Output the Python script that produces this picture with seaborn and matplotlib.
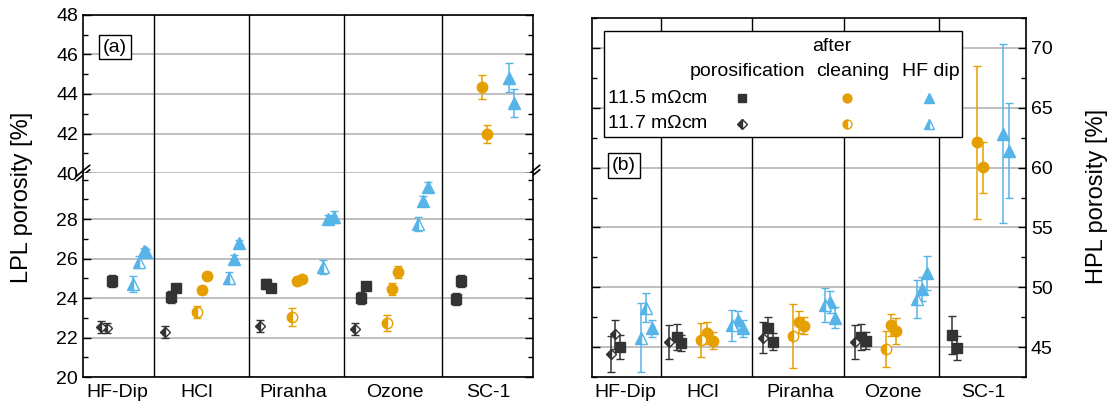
import matplotlib
matplotlib.use("Agg")
import matplotlib.pyplot as plt
from matplotlib.patches import Rectangle
from matplotlib.ticker import MultipleLocator
import seaborn as sns

# ── Data ───────────────────────────────────────────────────────────────────
groups = ["HF-Dip", "HCl", "Piranha", "Ozone", "SC-1"]

# LPL (left panel): sample positions, porosity [%], error
lpl_por115_x = [2.93, 8.77, 9.27, 18.27, 18.77, 27.77, 28.27, 37.27, 37.8]
lpl_por115_y = [24.88, 24.03, 24.49, 24.69, 24.49, 24.02, 24.61, 23.95, 24.86]
lpl_por115_e = [0.3, 0.3, 0.15, 0.25, 0.15, 0.3, 0.15, 0.3, 0.3]
lpl_por117_x = [1.77, 2.37, 8.23, 17.73, 27.2]
lpl_por117_y = [22.55, 22.5, 22.29, 22.58, 22.41]
lpl_por117_e = [0.3, 0.25, 0.3, 0.3, 0.3]
lpl_cln115_x = [11.93, 12.43, 21.43, 21.93, 30.93, 31.47, 39.93, 40.43]
lpl_cln115_y = [24.41, 25.13, 24.88, 24.94, 24.44, 25.33, 44.37, 41.97]
lpl_cln115_e = [0.2, 0.15, 0.2, 0.2, 0.3, 0.3, 0.6, 0.45]
lpl_cln117_x = [11.37, 20.87, 30.43]
lpl_cln117_y = [23.31, 23.05, 22.72]
lpl_cln117_e = [0.3, 0.45, 0.4]
lpl_hf115_x = [6.1, 6.3, 15.07, 15.63, 24.53, 25.1, 34.0, 34.5, 42.6, 43.1]
lpl_hf115_y = [26.38, 26.31, 25.97, 26.8, 28.0, 28.12, 28.91, 29.62, 44.83, 43.56]
lpl_hf115_e = [0.15, 0.15, 0.2, 0.15, 0.2, 0.3, 0.25, 0.25, 0.75, 0.7]
lpl_hf117_x = [5.03, 5.6, 14.63, 24.03, 33.53]
lpl_hf117_y = [24.69, 25.84, 25.03, 25.59, 27.75]
lpl_hf117_e = [0.4, 0.3, 0.3, 0.35, 0.35]
lpl_sep = [7.1, 16.6, 26.1, 35.9]
lpl_label_x = [3.4, 11.4, 21.0, 31.2, 40.5]

# HPL (right panel)
hpl_por115_x = [2.8, 8.47, 8.87, 17.57, 18.13, 26.9, 27.37, 35.97, 36.47]
hpl_por115_y = [45.03, 45.86, 45.36, 46.61, 45.44, 45.86, 45.53, 46.0, 44.89]
hpl_por115_e = [1.0, 1.1, 0.65, 0.9, 0.7, 1.1, 0.7, 1.6, 1.0]
hpl_por117_x = [1.87, 2.3, 7.73, 17.07, 26.3]
hpl_por117_y = [44.42, 46.08, 45.44, 45.78, 45.44]
hpl_por117_e = [1.5, 1.2, 1.4, 1.3, 1.4]
hpl_cln115_x = [11.47, 12.07, 20.7, 21.2, 29.9, 30.4, 38.53, 39.07]
hpl_cln115_y = [46.19, 45.53, 47.11, 46.78, 46.83, 46.33, 62.1, 60.02]
hpl_cln115_e = [0.9, 0.7, 0.9, 0.7, 0.9, 1.1, 6.4, 2.15]
hpl_cln117_x = [10.9, 20.13, 29.37]
hpl_cln117_y = [45.58, 45.92, 44.83]
hpl_cln117_e = [1.4, 2.7, 1.5]
hpl_hf115_x = [5.97, 14.63, 15.07, 23.8, 24.3, 32.97, 33.53, 41.13, 41.7]
hpl_hf115_y = [46.56, 47.25, 46.56, 48.78, 47.47, 49.89, 51.19, 62.83, 61.42]
hpl_hf115_e = [0.7, 0.8, 0.7, 0.9, 0.9, 1.0, 1.4, 7.5, 4.0]
hpl_hf117_x = [4.87, 5.37, 14.03, 23.3, 32.47]
hpl_hf117_y = [45.79, 48.3, 46.83, 48.5, 49.0]
hpl_hf117_e = [2.9, 1.2, 1.3, 1.4, 1.6]
hpl_sep = [6.9, 16.0, 25.2, 34.7]
hpl_label_x = [3.3, 11.1, 20.8, 30.1, 39.1]

# ── Style ──────────────────────────────────────────────────────────────────
sns.set_theme(style="ticks")
plt.rcParams["font.family"] = ["Liberation Sans", "DejaVu Sans"]
plt.rcParams["mathtext.fontset"] = "custom"
plt.rcParams["mathtext.rm"] = "Liberation Sans"
for k in ("text.color", "xtick.color", "ytick.color", "axes.labelcolor"):
    plt.rcParams[k] = "black"

DARK, ORANGE, BLUE = "#333333", "#E69F00", "#56B4E9"
GRID = "#b4b4b4"
FS = 14
LABEL_FS = 17

STYLE = {
    "por115": dict(color=DARK, marker="s", ms=6.5, fillstyle="full"),
    "por117": dict(color=DARK, marker="D", ms=5.5, fillstyle="left"),
    "cln115": dict(color=ORANGE, marker="o", ms=7.5, fillstyle="full"),
    "cln117": dict(color=ORANGE, marker="o", ms=7.5, fillstyle="left"),
    "hf115": dict(color=BLUE, marker="^", ms=8.5, fillstyle="full"),
    "hf117": dict(color=BLUE, marker="^", ms=8.5, fillstyle="left"),
}


def draw_series(ax, x, y, e, key):
    st = STYLE[key]
    ax.errorbar(x, y, yerr=e, fmt=st["marker"], color=st["color"], ms=st["ms"],
                mec=st["color"], mew=1.0, fillstyle=st["fillstyle"],
                markerfacecoloralt="white", elinewidth=1.1, capsize=3,
                capthick=1.1, zorder=3)


def style_axis(ax, major, minor):
    ax.tick_params(axis="y", which="both", direction="in", left=True, right=True,
                   labelsize=FS)
    ax.tick_params(axis="y", which="major", length=6, width=1)
    ax.tick_params(axis="y", which="minor", length=3.5, width=1)
    ax.tick_params(axis="x", length=0, labelsize=FS, pad=5)
    ax.yaxis.set_major_locator(MultipleLocator(major))
    ax.yaxis.set_minor_locator(MultipleLocator(minor))
    ax.yaxis.grid(True, color=GRID, lw=1.2)
    for s in ax.spines.values():
        s.set_linewidth(1.2)
        s.set_color("black")


fig = plt.figure(figsize=(11.17, 4.03), dpi=100)
ax_top = fig.add_axes([0.0743, 0.5707, 0.4029, 0.3921])
ax_bot = fig.add_axes([0.0743, 0.0645, 0.4029, 0.5062])
ax_r = fig.add_axes([0.530, 0.0645, 0.3885, 0.8908])

left_series = [
    (lpl_por115_x, lpl_por115_y, lpl_por115_e, "por115"),
    (lpl_por117_x, lpl_por117_y, lpl_por117_e, "por117"),
    (lpl_cln115_x, lpl_cln115_y, lpl_cln115_e, "cln115"),
    (lpl_cln117_x, lpl_cln117_y, lpl_cln117_e, "cln117"),
    (lpl_hf115_x, lpl_hf115_y, lpl_hf115_e, "hf115"),
    (lpl_hf117_x, lpl_hf117_y, lpl_hf117_e, "hf117"),
]
right_series = [
    (hpl_por115_x, hpl_por115_y, hpl_por115_e, "por115"),
    (hpl_por117_x, hpl_por117_y, hpl_por117_e, "por117"),
    (hpl_cln115_x, hpl_cln115_y, hpl_cln115_e, "cln115"),
    (hpl_cln117_x, hpl_cln117_y, hpl_cln117_e, "cln117"),
    (hpl_hf115_x, hpl_hf115_y, hpl_hf115_e, "hf115"),
    (hpl_hf117_x, hpl_hf117_y, hpl_hf117_e, "hf117"),
]

# ── Left panel (broken axis) ───────────────────────────────────────────────
for ax in (ax_top, ax_bot):
    for x, y, e, key in left_series:
        draw_series(ax, x, y, e, key)
    for s in lpl_sep:
        ax.axvline(s, color="black", lw=1.0, zorder=1)
    ax.set_xlim(0, 45)
    style_axis(ax, 2, 1)

ax_top.set_ylim(40, 48)
ax_bot.set_ylim(20, 30.33)
ax_top.spines["bottom"].set_visible(False)
ax_bot.spines["top"].set_visible(False)
ax_top.set_xticks([])
ax_bot.set_xticks(lpl_label_x)
ax_bot.set_xticklabels(groups)
ax_bot.set_yticks([20, 22, 24, 26, 28])

# break marks on both spines
for xa in (0.0, 1.0):
    for dy in (-0.014, 0.014):
        ax_top.plot([xa - 0.015, xa + 0.015], [dy - 0.035, dy + 0.035],
                    transform=ax_top.transAxes, color="black", lw=1.2,
                    clip_on=False, zorder=5)

ax_top.text(0.071, 0.797, "(a)", transform=ax_top.transAxes, fontsize=FS,
            ha="center", va="center",
            bbox=dict(boxstyle="square,pad=0.2", fc="white", ec="black", lw=1.0))

# ── Right panel ────────────────────────────────────────────────────────────
for x, y, e, key in right_series:
    draw_series(ax_r, x, y, e, key)
for s in hpl_sep:
    ax_r.axvline(s, color="black", lw=1.0, zorder=1)
ax_r.set_xlim(0, 43.4)
ax_r.set_ylim(42.5, 72.5)
style_axis(ax_r, 5, 2.5)
ax_r.tick_params(axis="y", labelleft=False, labelright=True)
ax_r.set_xticks(hpl_label_x)
ax_r.set_xticklabels(groups)

ax_r.text(0.074, 0.59, "(b)", transform=ax_r.transAxes, fontsize=FS,
          ha="center", va="center",
          bbox=dict(boxstyle="square,pad=0.2", fc="white", ec="black", lw=1.0))

# custom legend table
ax_r.add_patch(Rectangle((0.0276, 0.6685), 0.8249, 0.2953, transform=ax_r.transAxes,
                         fc="white", ec="black", lw=1.0, zorder=6))
tkw = dict(transform=ax_r.transAxes, fontsize=FS, zorder=7, va="center")
ax_r.text(0.553, 0.922, "after", ha="center", **tkw)
ax_r.text(0.358, 0.852, "porosification", ha="center", **tkw)
ax_r.text(0.601, 0.852, "cleaning", ha="center", **tkw)
ax_r.text(0.780, 0.852, "HF dip", ha="center", **tkw)
ax_r.text(0.0346, 0.777, "11.5 m$\\Omega$cm", ha="left", **tkw)
ax_r.text(0.0346, 0.705, "11.7 m$\\Omega$cm", ha="left", **tkw)
for key, lx, ly in [("por115", 0.3456, 0.777), ("cln115", 0.5876, 0.777),
                    ("hf115", 0.7765, 0.777), ("por117", 0.3456, 0.705),
                    ("cln117", 0.5876, 0.705), ("hf117", 0.7765, 0.705)]:
    st = STYLE[key]
    ax_r.plot([lx], [ly], marker=st["marker"], color=st["color"], ms=st["ms"] * 0.85,
              mec=st["color"], fillstyle=st["fillstyle"], markerfacecoloralt="white",
              ls="none", transform=ax_r.transAxes, zorder=8, clip_on=False)

fig.text(0.0197, 0.511, "LPL porosity [%]", rotation=90, ha="center", va="center",
         fontsize=LABEL_FS)
fig.text(0.982, 0.512, "HPL porosity [%]", rotation=90, ha="center", va="center",
         fontsize=LABEL_FS)

fig.savefig("out.png", dpi=100)
